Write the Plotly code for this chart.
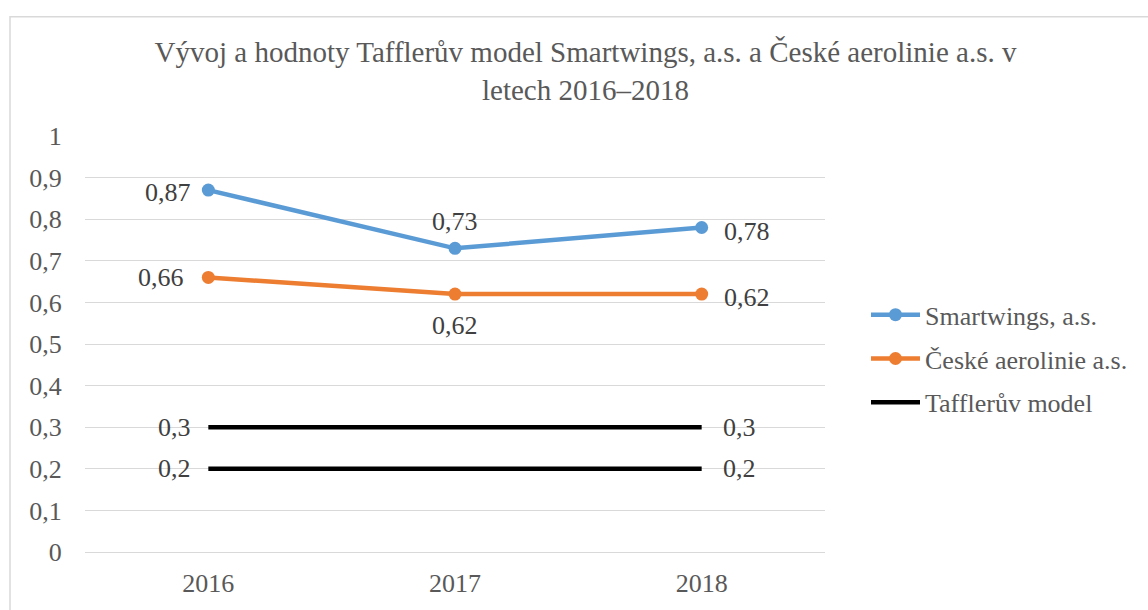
import plotly.graph_objects as go

years = ["2016", "2017", "2018"]
smartwings = [0.87, 0.73, 0.78]
csa = [0.66, 0.62, 0.62]
taffler_upper = [0.3, 0.3, 0.3]
taffler_lower = [0.2, 0.2, 0.2]
y_ticks = [0, 0.1, 0.2, 0.3, 0.4, 0.5, 0.6, 0.7, 0.8, 0.9, 1]


def fmt(v):
    return ("%g" % v).replace(".", ",")


FONT = "Liberation Serif"
LABEL_COLOR = "#404040"
AXIS_COLOR = "#595959"
FS = 26

fig = go.Figure()

fig.add_trace(go.Scatter(
    x=years, y=smartwings, name="Smartwings, a.s.", mode="lines+markers",
    legendgroup="sw",
    line=dict(color="#5B9BD5", width=4.5), marker=dict(size=13, color="#5B9BD5"),
))
fig.add_trace(go.Scatter(
    x=years, y=csa, name="České aerolinie a.s.", mode="lines+markers",
    legendgroup="csa",
    line=dict(color="#ED7D31", width=4.5), marker=dict(size=13, color="#ED7D31"),
))
for i, vals in enumerate([taffler_upper, taffler_lower]):
    fig.add_trace(go.Scatter(
        x=years, y=vals, name="Tafflerův model", mode="lines",
        legendgroup="taffler", showlegend=(i == 0),
        line=dict(color="#000000", width=4.5),
    ))

# data labels: (series values, per-point placement (xanchor, xshift, yshift) or None)
label_specs = [
    (smartwings, [("right", -15, -2), ("center", 0, 27), ("left", 20, -4)]),
    (csa, [("right", -22, 0), ("center", 0, -31), ("left", 20, -3)]),
    (taffler_upper, [("right", -15, 0), None, ("left", 19, 0)]),
    (taffler_lower, [("right", -15, 0), None, ("left", 19, 0)]),
]
for vals, places in label_specs:
    for idx, (v, p) in enumerate(zip(vals, places)):
        if p is None:
            continue
        xa, xs, ys = p
        fig.add_annotation(
            x=idx, y=v, xref="x", yref="y", text=fmt(v), showarrow=False,
            xanchor=xa, yanchor="middle", xshift=xs, yshift=ys,
            font=dict(family=FONT, size=FS, color=LABEL_COLOR),
        )

L, R, T, B = 85, 323, 136, 52
W, H = 1148, 610
pw, ph = W - L - R, H - T - B

fig.update_layout(
    width=W, height=H,
    margin=dict(l=L, r=R, t=T, b=B),
    paper_bgcolor="white", plot_bgcolor="white",
    separators=", ",
    font=dict(family=FONT, color=AXIS_COLOR),
    title=dict(
        text="Vývoj a hodnoty Tafflerův model Smartwings, a.s. a České aerolinie a.s. v<br>letech 2016–2018",
        x=0.51, xanchor="center", y=1 - 62 / H, yanchor="middle",
        font=dict(family=FONT, size=29, color=AXIS_COLOR),
    ),
    xaxis=dict(
        type="category", range=[-0.5, 2.5],
        showgrid=False, zeroline=False, showline=False,
        tickfont=dict(family=FONT, size=FS, color=AXIS_COLOR),
        ticks="outside", ticklen=8, tickcolor="rgba(0,0,0,0)",
    ),
    yaxis=dict(
        range=[0, 1], tickvals=y_ticks, ticktext=[fmt(v) for v in y_ticks],
        showgrid=True, gridcolor="#d9d9d9", gridwidth=1,
        zeroline=True, zerolinecolor="#d9d9d9", zerolinewidth=1,
        showline=False,
        tickfont=dict(family=FONT, size=FS, color=AXIS_COLOR),
        ticks="outside", ticklen=17, tickcolor="rgba(0,0,0,0)",
    ),
    legend=dict(
        x=(866 - L) / pw, xanchor="left",
        y=(H - B - 362) / ph, yanchor="middle",
        font=dict(family=FONT, size=FS, color=AXIS_COLOR),
        traceorder="grouped", tracegroupgap=7, itemwidth=49,
        bgcolor="rgba(0,0,0,0)",
    ),
    showlegend=True,
)

# outer chart frame: only the left and top edges are visible in the crop
fig.add_shape(
    type="path", xref="paper", yref="paper",
    path="M {x0},{y0} L {x0},{y1} L {x1},{y1}".format(
        x0=(10 - L) / pw, y0=(H - B - (H + 60)) / ph,
        y1=1 + (T - 15) / ph, x1=(W + 60 - L) / pw),
    line=dict(color="#d9d9d9", width=1.5),
    layer="below",
)

fig.write_html("out.html")
